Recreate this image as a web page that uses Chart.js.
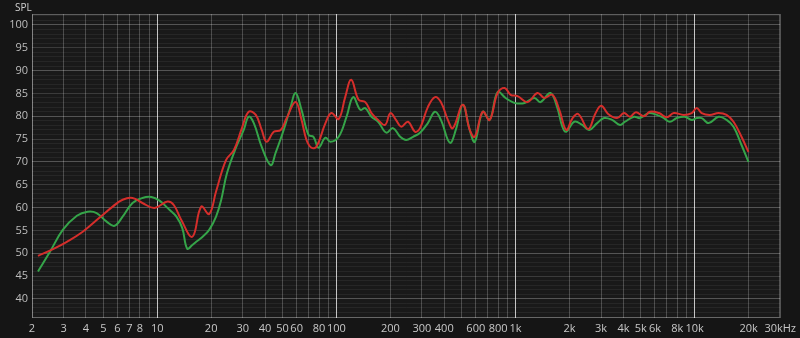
<!DOCTYPE html>
<html>
<head>
<meta charset="utf-8">
<script src="https://cdn.jsdelivr.net/npm/chart.js@4/dist/chart.umd.min.js"></script>
<style>
  html, body { margin: 0; padding: 0; background: #151515; }
  #wrap { width: 800px; height: 338px; }
</style>
</head>
<body>
<div id="wrap"><canvas id="spl" width="800" height="338"></canvas></div>
<script>
// frequency (Hz) / level (dB)
const redFreq = [2.16,2.62,3.13,3.84,4.77,5.64,6.41,7.28,8.27,9.65,11.4,12.4,13.6,15.7,17.6,19.5,21.3,24.2,26.8,29.7,
  32.4,35.5,38.3,40.8,44.7,48.9,52.8,59.2,63.9,68.1,72.6,77.4,86.9,93.8,103,112,121,133,145,157,
  171,187,200,215,230,251,275,293,324,355,383,419,447,508,555,592,656,717,794,869,
  938,1026,1166,1325,1449,1606,1755,1920,2074,2239,2545,2783,3005,3287,3687,4033,4354,4700,5209,5623,
  6310,6990,7643,8689,9624,10260,10940,12120,13600,15060,16470,18250,19950];
const redSpl = [49.4,50.9,52.5,54.7,57.8,60.2,61.7,62.1,61.0,59.9,61.3,60.5,57.3,53.6,60.2,58.6,63.5,70.4,72.6,77.4,
  81.0,80.3,77.0,74.4,76.6,77.0,79.6,83.1,79.2,74.8,73.1,73.3,78.5,80.7,79.4,84.2,88.0,83.6,83.1,80.7,
  79.2,78.1,80.7,79.2,77.7,78.8,76.6,77.4,82.0,84.2,83.1,79.2,77.4,82.5,77.0,75.5,81.0,79.2,85.1,86.2,
  84.7,84.4,83.1,85.1,84.0,84.7,81.4,77.0,79.5,80.5,77.2,80.5,82.3,80.5,79.6,80.7,79.9,80.9,80.0,81.0,
  80.7,79.8,80.7,80.3,80.7,81.8,80.7,80.3,80.7,80.3,78.8,75.5,72.2];

const greenFreq = [2.16,2.52,2.97,3.56,4.09,4.59,5.22,5.78,6.41,7.28,8.27,9.28,10.3,11.7,12.8,13.8,14.7,15.7,16.5,17.8,
  19.5,21.3,22.7,24.5,27.5,30.4,32.4,34.6,38.3,43.0,45.8,50.8,55.5,59.2,63.9,69.9,74.5,79.4,86.9,92.6,
  103,114,124,136,145,157,171,190,207,227,245,268,293,324,355,383,430,464,508,555,
  592,656,717,794,880,962,1026,1122,1275,1377,1565,1711,1825,1920,2127,2356,2577,2855,3122,3458,
  3831,4084,4583,4947,5552,6151,6727,7262,7943,8800,9624,10260,10940,11960,13600,15060,16470,18250,19950];
const greenSpl = [46.0,50.3,55.1,58.2,59.1,58.8,56.9,56.0,58.0,61.0,62.1,62.3,61.5,59.5,58.0,55.5,51.0,51.8,52.5,53.5,
  55.1,58.0,61.5,67.5,73.1,77.0,79.9,78.5,73.3,69.3,72.0,77.0,82.0,85.1,81.4,75.9,75.5,73.1,75.3,74.4,
  75.5,79.9,84.2,81.4,81.8,79.9,78.8,76.4,77.4,75.5,74.8,75.5,76.4,78.5,81.0,79.2,74.2,77.0,82.5,77.0,
  74.4,81.0,79.2,85.3,84.0,83.1,82.8,82.9,84.0,83.1,85.1,81.8,77.7,76.6,78.8,78.1,77.0,78.5,79.6,79.2,
  78.1,78.8,79.9,79.6,80.7,80.3,79.6,78.8,79.6,79.9,79.2,79.6,79.6,78.5,79.9,79.2,77.7,73.7,70.0];

const xTickValues = [2,3,4,5,6,7,8,9,10,20,30,40,50,60,70,80,90,100,200,300,400,500,600,700,800,900,
  1000,2000,3000,4000,5000,6000,7000,8000,9000,10000,20000,30000];
const xTickLabels = ['2','3','4','5','6','7','8','','10','20','30','40','50','60','','80','','100','200','300','400','','600','','800','',
  '1k','2k','3k','4k','5k','6k','','8k','','10k','20k','30kHz'];
const yTickValues = [];
for (let v = 36; v <= 102; v++) yTickValues.push(v);

function pts(f, s) { return f.map((x, i) => ({ x: x, y: s[i] })); }

const bgPlugin = {
  id: 'bg',
  beforeDraw(chart) {
    const c = chart.ctx;
    c.save();
    c.fillStyle = '#151515';
    c.fillRect(0, 0, chart.width, chart.height);
    const a = chart.chartArea;
    c.fillStyle = '#191919';
    c.fillRect(a.left, a.top, a.right - a.left, a.bottom - a.top);
    c.restore();
  },
  afterDraw(chart) {
    const c = chart.ctx;
    const a = chart.chartArea;
    c.save();
    c.strokeStyle = 'rgba(255,255,255,0.3)';
    c.lineWidth = 1;
    c.strokeRect(a.left + 0.5, a.top + 0.5, a.right - a.left - 1, a.bottom - a.top - 1);
    c.fillStyle = '#cfcfcf';
    c.font = '10px "Open Sans", sans-serif';
    c.textBaseline = 'middle';
    c.fillText('SPL', 15, 8);
    c.restore();
  }
};

new Chart(document.getElementById('spl'), {
  type: 'line',
  data: {
    datasets: [
      { label: 'red', data: pts(redFreq, redSpl), borderColor: '#d52e2b', borderWidth: 2, pointRadius: 0, tension: 0.4 },
      { label: 'green', data: pts(greenFreq, greenSpl), borderColor: '#35a449', borderWidth: 2, pointRadius: 0, tension: 0.4 }
    ]
  },
  options: {
    responsive: false,
    animation: false,
    layout: { padding: { top: 14, right: 16, left: 0, bottom: 0 } },
    plugins: { legend: { display: false }, tooltip: { enabled: false } },
    scales: {
      x: {
        type: 'logarithmic',
        min: 2,
        max: 30000,
        afterBuildTicks: s => { s.ticks = xTickValues.map(v => ({ value: v })); },
        afterFit: s => { s.height = 20; },
        ticks: {
          autoSkip: false,
          maxRotation: 0,
          padding: 4,
          color: '#c8c8c8',
          font: { family: '"Open Sans", sans-serif', size: 11 },
          callback: (v, i) => xTickLabels[i]
        },
        grid: {
          drawTicks: false,
          color: c => {
            const v = c.tick && c.tick.value;
            if (v === 10 || v === 100 || v === 1000 || v === 10000) return 'rgba(255,255,255,0.75)';
            return 'rgba(255,255,255,0.22)';
          }
        },
        border: { display: false }
      },
      y: {
        min: 35.8,
        max: 102.4,
        afterBuildTicks: s => { s.ticks = yTickValues.map(v => ({ value: v })); },
        afterFit: s => { s.width = 32; },
        ticks: {
          autoSkip: false,
          padding: 4,
          color: '#bdbdbd',
          font: { family: '"Open Sans", sans-serif', size: 11 },
          callback: v => (v % 5 === 0 && v >= 40 && v <= 100) ? String(v) : ''
        },
        grid: {
          drawTicks: false,
          color: c => {
            const v = c.tick && c.tick.value;
            if (v % 10 === 0) return 'rgba(255,255,255,0.26)';
            if (v % 5 === 0) return 'rgba(255,255,255,0.15)';
            return 'rgba(255,255,255,0.06)';
          }
        },
        border: { display: false }
      }
    }
  },
  plugins: [bgPlugin]
});
</script>
</body>
</html>
